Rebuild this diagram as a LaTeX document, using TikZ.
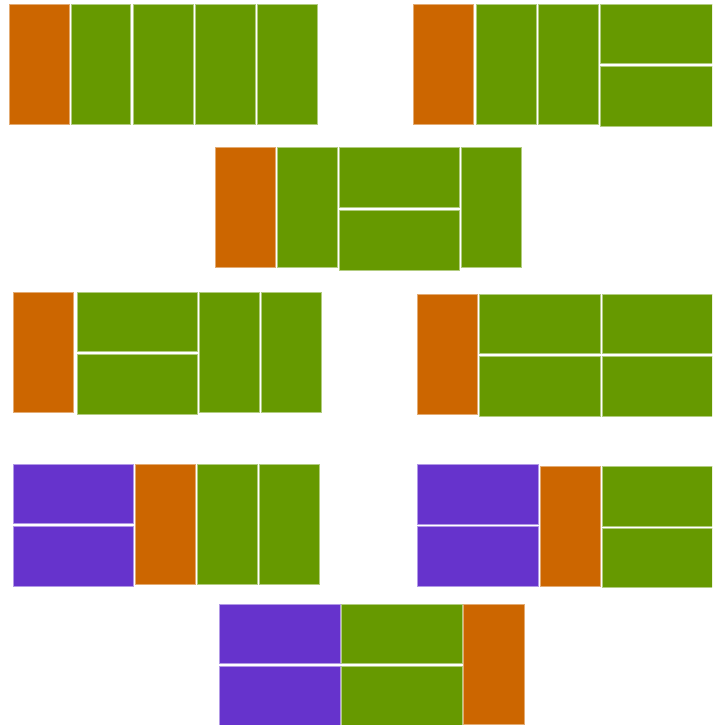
\documentclass[tikz,border=0pt]{standalone}
\definecolor{cOrange}{RGB}{204,102,0}
\definecolor{cGreen}{RGB}{102,153,0}
\definecolor{cPurple}{RGB}{102,51,204}
\tikzset{
  tile/.style={line width=0.7pt},
  org/.style={tile,fill=cOrange,draw=cOrange!55!white},
  grn/.style={tile,fill=cGreen,draw=cGreen!50!white},
  pur/.style={tile,fill=cPurple,draw=cPurple!50!white},
}
\begin{document}
\begin{tikzpicture}[x=1pt,y=-1pt]
\useasboundingbox (0,0) rectangle (712,725);
\clip (0,0) rectangle (712,725);
\fill[white] (0,0) rectangle (712,725);
% row 1 left
\path[org] (9,4) rectangle (69,124);
\path[grn] (71,4) rectangle (130,124);
\path[grn] (133,4) rectangle (193,124);
\path[grn] (195,4) rectangle (255,124);
\path[grn] (257,4) rectangle (317,124);
% row 1 right
\path[org] (413,4) rectangle (473,124);
\path[grn] (476,4) rectangle (536,124);
\path[grn] (538,4) rectangle (598,124);
\path[grn] (600,4) rectangle (722,63);
\path[grn] (600,66) rectangle (722,126);
% row 2 centre
\path[org] (215,147) rectangle (275,267);
\path[grn] (277,147) rectangle (337,267);
\path[grn] (339,147) rectangle (459,207);
\path[grn] (339,210) rectangle (459,270);
\path[grn] (461,147) rectangle (521,267);
% row 3 left
\path[org] (13,292) rectangle (73,412);
\path[grn] (77,292) rectangle (197,351);
\path[grn] (77,354) rectangle (197,414);
\path[grn] (199,292) rectangle (259,412);
\path[grn] (261,292) rectangle (321,412);
% row 3 right
\path[org] (417,294) rectangle (477,414);
\path[grn] (479,294) rectangle (600,353);
\path[grn] (479,356) rectangle (600,416);
\path[grn] (602,294) rectangle (722,353);
\path[grn] (602,356) rectangle (722,416);
% row 4 left
\path[pur] (13,464) rectangle (133,523);
\path[pur] (13,526) rectangle (133,586);
\path[org] (135,464) rectangle (195,584);
\path[grn] (197,464) rectangle (257,584);
\path[grn] (259,464) rectangle (319,584);
% row 4 right
\path[pur] (417,464) rectangle (538,524);
\path[pur] (417,526) rectangle (538,586);
\path[org] (540,466) rectangle (600,586);
\path[grn] (602,466) rectangle (722,526);
\path[grn] (602,528) rectangle (722,587);
% row 5 centre
\path[pur] (219,604) rectangle (340,663);
\path[pur] (219,666) rectangle (340,735);
\path[grn] (341,604) rectangle (462,663);
\path[grn] (341,666) rectangle (462,735);
\path[org] (463,604) rectangle (524,724);
\end{tikzpicture}
\end{document}
